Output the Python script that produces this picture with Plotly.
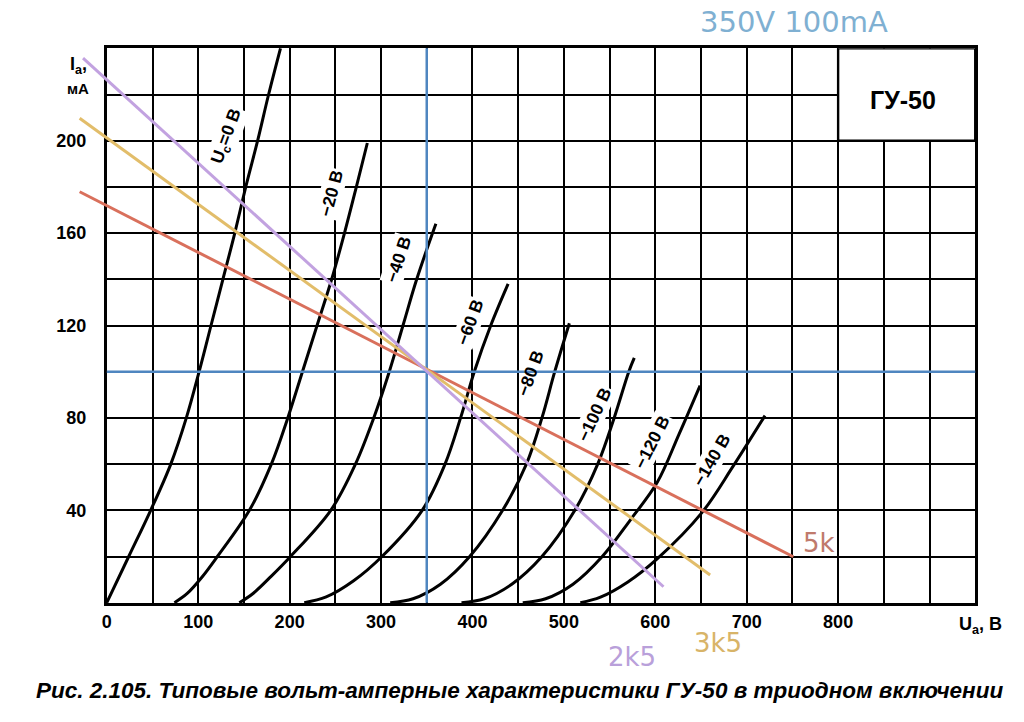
import plotly.graph_objects as go

# ---------------- data ----------------
# anode characteristics of GU-50 (triode connection): anode voltage (V) / anode current (mA)
ua_0 = [0, 24, 48, 70, 87, 101, 114, 127, 140, 152, 165, 177, 190]
ia_0 = [0, 20, 40, 60, 80, 100, 120, 140, 160, 180, 200, 220, 240]
ua_20 = [74, 88, 104, 121, 156, 180, 198, 214, 230, 246, 260, 273, 285]
ia_20 = [0, 4, 11, 20, 40, 60, 80, 100, 120, 140, 160, 180, 199]
ua_40 = [145, 160, 180, 201, 245, 272, 292, 309, 324, 339, 360]
ia_40 = [0, 4, 11.5, 20, 40, 60, 80, 100, 120, 140, 164]
ua_60 = [216, 240, 270, 301, 345, 370, 387, 402, 420, 439]
ia_60 = [0, 2.5, 9.5, 20, 40, 60, 80, 100, 120, 138]
ua_80 = [310, 335, 365, 397, 433, 459, 476, 490, 506]
ia_80 = [0, 1.7, 8, 20, 40, 60, 80, 100, 121]
ua_100 = [388, 413, 443, 476, 512, 537, 555, 571, 577]
ia_100 = [0, 1.7, 8, 20, 40, 60, 80, 100, 106]
ua_120 = [455, 480, 510, 542, 573, 602, 626, 649]
ia_120 = [0, 1.7, 8, 20, 36, 52, 73, 94]
ua_140 = [518, 540, 570, 602, 651, 685, 720]
ia_140 = [0, 2.4, 9, 19, 39, 59, 81]

curve_labels = ["U<sub>c</sub>=0 В", "−20 В", "−40 В", "−60 В", "−80 В", "−100 В", "−120 В", "−140 В"]

# load lines (anode voltage V, anode current mA), end points
load_2k5_ua = [-26, 609]
load_2k5_ia = [235.7, 6.9]
load_3k5_ua = [-29.7, 660]
load_3k5_ia = [209.7, 12]
load_5k_ua = [-29.7, 751]
load_5k_ia = [177.9, 19.9]
load_names = ["2k5", "3k5", "5k"]

# operating point
op_ua = 350
op_ia = 100

x_tick_vals = [0, 100, 200, 300, 400, 500, 600, 700, 800]
y_tick_vals = [40, 80, 120, 160, 200]
X_MAX = 950
Y_MAX = 240

# ---------------- layout geometry ----------------
W, H = 1024, 722
X0_PX, X1_PX = 102.3, 975.0   # pixel columns of 0 V and 950 V
Y0_PX, Y1_PX = 602.7, 48.3    # pixel rows of 0 mA and 240 mA

sx = X_MAX / (X1_PX - X0_PX)
sy = Y_MAX / (Y0_PX - Y1_PX)
x2_range = [-X0_PX * sx, X_MAX + (W - X1_PX) * sx]
y2_range = [-(H - Y0_PX) * sy, Y_MAX + Y1_PX * sy]

FONT = "Liberation Sans"
BLUE = "#4f86c0"
C_2K5 = "#c2a2e0"
C_3K5 = "#e2bd6a"
C_5K = "#d9705c"

fig = go.Figure()

# dummy trace so the grid subplot is drawn
fig.add_trace(go.Scatter(x=[0], y=[0], mode="markers", marker=dict(size=1, color="rgba(0,0,0,0)"),
                         xaxis="x", yaxis="y", showlegend=False, hoverinfo="skip"))

curves = [(ua_0, ia_0), (ua_20, ia_20), (ua_40, ia_40), (ua_60, ia_60),
          (ua_80, ia_80), (ua_100, ia_100), (ua_120, ia_120), (ua_140, ia_140)]
for (ua, ia), name in zip(curves, curve_labels):
    fig.add_trace(go.Scatter(x=ua, y=ia, mode="lines", line=dict(color="black", width=3, shape="spline", smoothing=1.0),
                             xaxis="x2", yaxis="y2", showlegend=False, name=name))

# operating point cross lines
fig.add_trace(go.Scatter(x=[op_ua, op_ua], y=[0, Y_MAX], mode="lines", line=dict(color=BLUE, width=2.5),
                         xaxis="x2", yaxis="y2", showlegend=False))
fig.add_trace(go.Scatter(x=[0, X_MAX], y=[op_ia, op_ia], mode="lines", line=dict(color=BLUE, width=2.5),
                         xaxis="x2", yaxis="y2", showlegend=False))

# load lines
for ua, ia, col, name in [(load_5k_ua, load_5k_ia, C_5K, "5k"),
                          (load_3k5_ua, load_3k5_ia, C_3K5, "3k5"),
                          (load_2k5_ua, load_2k5_ia, C_2K5, "2k5")]:
    fig.add_trace(go.Scatter(x=ua, y=ia, mode="lines", line=dict(color=col, width=3),
                             xaxis="x2", yaxis="y2", showlegend=False, name=name))

axis_common = dict(showgrid=True, gridcolor="black", gridwidth=2.4, zeroline=False,
                   showline=True, linecolor="black", linewidth=2.6, mirror=True,
                   ticks="", tickfont=dict(family=FONT, size=18, color="black", weight="bold"))

fig.update_layout(
    width=W, height=H,
    margin=dict(l=0, r=0, t=0, b=0),
    paper_bgcolor="white", plot_bgcolor="rgba(0,0,0,0)",
    showlegend=False,
    xaxis=dict(domain=[X0_PX / W, X1_PX / W], range=[0, X_MAX],
               tickmode="array", tickvals=x_tick_vals, ticktext=[str(v) for v in x_tick_vals],
               ticklabelstandoff=1, anchor="y",
               minor=dict(showgrid=True, gridcolor="black", gridwidth=2.4, dtick=50, tick0=0),
               **axis_common),
    yaxis=dict(domain=[1 - Y0_PX / H, 1 - Y1_PX / H], range=[0, Y_MAX],
               tickmode="array", tickvals=y_tick_vals, ticktext=[str(v) for v in y_tick_vals],
               ticklabelstandoff=14, anchor="x",
               minor=dict(showgrid=True, gridcolor="black", gridwidth=2.4, dtick=20, tick0=0),
               **axis_common),
    xaxis2=dict(domain=[0, 1], range=x2_range, visible=False, anchor="y2"),
    yaxis2=dict(domain=[0, 1], range=y2_range, visible=False, anchor="x2"),
)

# empty box for the tube name
fig.add_shape(type="rect", xref="x", yref="y", x0=800, x1=X_MAX, y0=200, y1=Y_MAX,
              fillcolor="white", line=dict(color="black", width=2.4), layer="between")

ann = []
# curve labels
label_pos = [(131.7, 201.7, -70), (246, 177.2, -75), (318.6, 148.4, -72), (397.3, 121.6, -70),
             (463.7, 99.3, -70), (533.1, 81.3, -65), (596.2, 69.7, -63), (661.5, 61.8, -60)]
for txt, (xv, yv, ang) in zip(curve_labels, label_pos):
    ann.append(dict(x=xv, y=yv, xref="x2", yref="y2", text="<b>" + txt + "</b>", textangle=ang, showarrow=False,
                    font=dict(family=FONT, size=17.5, color="black"),
                    bgcolor="white" if txt != "−80 В" else "rgba(0,0,0,0)", borderpad=1))

ann += [
    dict(x=870.6, y=217.6, xref="x2", yref="y2", text="<b>ГУ-50</b>", showarrow=False,
         font=dict(family=FONT, size=25, color="black")),
    dict(x=X_MAX + 6, y=-9.7, xref="x2", yref="y2", text="<b>U<sub>a</sub>, В</b>", showarrow=False,
         font=dict(family=FONT, size=18, color="black")),
    dict(x=-30.5, y=232.5, xref="x2", yref="y2", text="<b>I<sub>a</sub>,</b>", showarrow=False,
         font=dict(family=FONT, size=18, color="black")),
    dict(x=-31, y=222.5, xref="x2", yref="y2", text="<b>мА</b>", showarrow=False,
         font=dict(family=FONT, size=15, color="black")),
    dict(x=793 / W, y=1 - 22 / H, xref="paper", yref="paper", xanchor="center", yanchor="middle",
         text=f"{op_ua}V {op_ia}mA", showarrow=False,
         font=dict(family="DejaVu Sans", size=29, color="#7fb0d2")),
    dict(x=779, y=25.8, xref="x2", yref="y2", text=load_names[2], showarrow=False,
         font=dict(family="DejaVu Sans", size=26, color="#c07a6c")),
    dict(x=574.3, y=-23.5, xref="x2", yref="y2", text=load_names[0], showarrow=False,
         font=dict(family="DejaVu Sans", size=26, color="#b9a0da")),
    dict(x=668.1, y=-17.5, xref="x2", yref="y2", text=load_names[1], showarrow=False,
         font=dict(family="DejaVu Sans", size=26, color="#d8b468")),
    dict(x=517 / W, y=1 - 690 / H, xref="paper", yref="paper", xanchor="center", yanchor="middle",
         text="<b><i>Рис. 2.105. Типовые вольт-амперные характеристики ГУ-50 в триодном включении</i></b>",
         showarrow=False, font=dict(family=FONT, size=22.5, color="black")),
]
fig.update_layout(annotations=ann)

fig.write_html("out.html", config={"displayModeBar": False},
               post_script="document.body.style.margin='0';")
